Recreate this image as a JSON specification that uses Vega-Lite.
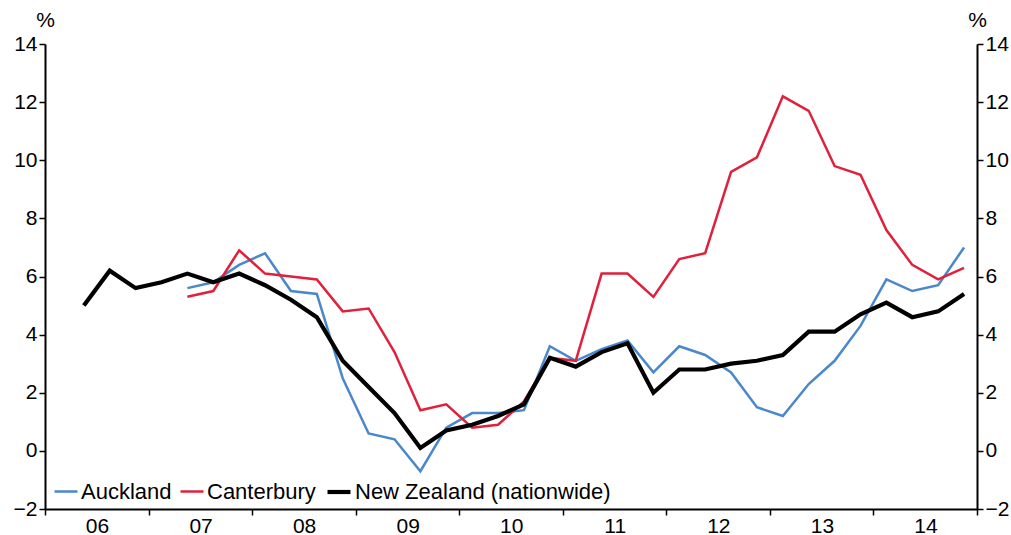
{
  "$schema": "https://vega.github.io/schema/vega-lite/v6.json",
  "width": 932,
  "height": 465,
  "autosize": {"type": "none"},
  "padding": {"left": 45, "top": 44, "right": 34, "bottom": 26},
  "background": "white",
  "config": {
    "view": {"stroke": null},
    "font": "Liberation Sans",
    "axis": {
      "domainColor": "black", "domainWidth": 2, "tickColor": "black", "tickWidth": 1.5,
      "tickSize": 6, "labelColor": "black", "labelFontSize": 21, "labelFont": "Liberation Sans",
      "grid": false, "titleFont": "Liberation Sans", "titleFontWeight": "normal", "titleFontSize": 21, "titleColor": "black"
    },
    "legend": {
      "orient": "none", "legendX": 8, "legendY": 434, "direction": "horizontal", "title": null,
      "labelFontSize": 22, "labelFont": "Liberation Sans", "labelColor": "black", "labelLimit": 500,
      "symbolType": "stroke", "symbolSize": 529, "labelOffset": 2, "columnPadding": 3, "padding": 0
    }
  },
  "data": {"values": [
    {"t": 2006.375, "series": "New Zealand (nationwide)", "v": 5.0},
    {"t": 2006.625, "series": "New Zealand (nationwide)", "v": 6.2},
    {"t": 2006.875, "series": "New Zealand (nationwide)", "v": 5.6},
    {"t": 2007.125, "series": "New Zealand (nationwide)", "v": 5.8},
    {"t": 2007.375, "series": "New Zealand (nationwide)", "v": 6.1},
    {"t": 2007.625, "series": "New Zealand (nationwide)", "v": 5.8},
    {"t": 2007.875, "series": "New Zealand (nationwide)", "v": 6.1},
    {"t": 2008.125, "series": "New Zealand (nationwide)", "v": 5.7},
    {"t": 2008.375, "series": "New Zealand (nationwide)", "v": 5.2},
    {"t": 2008.625, "series": "New Zealand (nationwide)", "v": 4.6},
    {"t": 2008.875, "series": "New Zealand (nationwide)", "v": 3.1},
    {"t": 2009.125, "series": "New Zealand (nationwide)", "v": 2.2},
    {"t": 2009.375, "series": "New Zealand (nationwide)", "v": 1.3},
    {"t": 2009.625, "series": "New Zealand (nationwide)", "v": 0.1},
    {"t": 2009.875, "series": "New Zealand (nationwide)", "v": 0.7},
    {"t": 2010.125, "series": "New Zealand (nationwide)", "v": 0.9},
    {"t": 2010.375, "series": "New Zealand (nationwide)", "v": 1.2},
    {"t": 2010.625, "series": "New Zealand (nationwide)", "v": 1.6},
    {"t": 2010.875, "series": "New Zealand (nationwide)", "v": 3.2},
    {"t": 2011.125, "series": "New Zealand (nationwide)", "v": 2.9},
    {"t": 2011.375, "series": "New Zealand (nationwide)", "v": 3.4},
    {"t": 2011.625, "series": "New Zealand (nationwide)", "v": 3.7},
    {"t": 2011.875, "series": "New Zealand (nationwide)", "v": 2.0},
    {"t": 2012.125, "series": "New Zealand (nationwide)", "v": 2.8},
    {"t": 2012.375, "series": "New Zealand (nationwide)", "v": 2.8},
    {"t": 2012.625, "series": "New Zealand (nationwide)", "v": 3.0},
    {"t": 2012.875, "series": "New Zealand (nationwide)", "v": 3.1},
    {"t": 2013.125, "series": "New Zealand (nationwide)", "v": 3.3},
    {"t": 2013.375, "series": "New Zealand (nationwide)", "v": 4.1},
    {"t": 2013.625, "series": "New Zealand (nationwide)", "v": 4.1},
    {"t": 2013.875, "series": "New Zealand (nationwide)", "v": 4.7},
    {"t": 2014.125, "series": "New Zealand (nationwide)", "v": 5.1},
    {"t": 2014.375, "series": "New Zealand (nationwide)", "v": 4.6},
    {"t": 2014.625, "series": "New Zealand (nationwide)", "v": 4.8},
    {"t": 2014.875, "series": "New Zealand (nationwide)", "v": 5.4},

    {"t": 2007.375, "series": "Auckland", "v": 5.6},
    {"t": 2007.625, "series": "Auckland", "v": 5.8},
    {"t": 2007.875, "series": "Auckland", "v": 6.4},
    {"t": 2008.125, "series": "Auckland", "v": 6.8},
    {"t": 2008.375, "series": "Auckland", "v": 5.5},
    {"t": 2008.625, "series": "Auckland", "v": 5.4},
    {"t": 2008.875, "series": "Auckland", "v": 2.5},
    {"t": 2009.125, "series": "Auckland", "v": 0.6},
    {"t": 2009.375, "series": "Auckland", "v": 0.4},
    {"t": 2009.625, "series": "Auckland", "v": -0.7},
    {"t": 2009.875, "series": "Auckland", "v": 0.8},
    {"t": 2010.125, "series": "Auckland", "v": 1.3},
    {"t": 2010.375, "series": "Auckland", "v": 1.3},
    {"t": 2010.625, "series": "Auckland", "v": 1.4},
    {"t": 2010.875, "series": "Auckland", "v": 3.6},
    {"t": 2011.125, "series": "Auckland", "v": 3.1},
    {"t": 2011.375, "series": "Auckland", "v": 3.5},
    {"t": 2011.625, "series": "Auckland", "v": 3.8},
    {"t": 2011.875, "series": "Auckland", "v": 2.7},
    {"t": 2012.125, "series": "Auckland", "v": 3.6},
    {"t": 2012.375, "series": "Auckland", "v": 3.3},
    {"t": 2012.625, "series": "Auckland", "v": 2.7},
    {"t": 2012.875, "series": "Auckland", "v": 1.5},
    {"t": 2013.125, "series": "Auckland", "v": 1.2},
    {"t": 2013.375, "series": "Auckland", "v": 2.3},
    {"t": 2013.625, "series": "Auckland", "v": 3.1},
    {"t": 2013.875, "series": "Auckland", "v": 4.3},
    {"t": 2014.125, "series": "Auckland", "v": 5.9},
    {"t": 2014.375, "series": "Auckland", "v": 5.5},
    {"t": 2014.625, "series": "Auckland", "v": 5.7},
    {"t": 2014.875, "series": "Auckland", "v": 7.0},

    {"t": 2007.375, "series": "Canterbury", "v": 5.3},
    {"t": 2007.625, "series": "Canterbury", "v": 5.5},
    {"t": 2007.875, "series": "Canterbury", "v": 6.9},
    {"t": 2008.125, "series": "Canterbury", "v": 6.1},
    {"t": 2008.375, "series": "Canterbury", "v": 6.0},
    {"t": 2008.625, "series": "Canterbury", "v": 5.9},
    {"t": 2008.875, "series": "Canterbury", "v": 4.8},
    {"t": 2009.125, "series": "Canterbury", "v": 4.9},
    {"t": 2009.375, "series": "Canterbury", "v": 3.4},
    {"t": 2009.625, "series": "Canterbury", "v": 1.4},
    {"t": 2009.875, "series": "Canterbury", "v": 1.6},
    {"t": 2010.125, "series": "Canterbury", "v": 0.8},
    {"t": 2010.375, "series": "Canterbury", "v": 0.9},
    {"t": 2010.625, "series": "Canterbury", "v": 1.7},
    {"t": 2010.875, "series": "Canterbury", "v": 3.2},
    {"t": 2011.125, "series": "Canterbury", "v": 3.1},
    {"t": 2011.375, "series": "Canterbury", "v": 6.1},
    {"t": 2011.625, "series": "Canterbury", "v": 6.1},
    {"t": 2011.875, "series": "Canterbury", "v": 5.3},
    {"t": 2012.125, "series": "Canterbury", "v": 6.6},
    {"t": 2012.375, "series": "Canterbury", "v": 6.8},
    {"t": 2012.625, "series": "Canterbury", "v": 9.6},
    {"t": 2012.875, "series": "Canterbury", "v": 10.1},
    {"t": 2013.125, "series": "Canterbury", "v": 12.2},
    {"t": 2013.375, "series": "Canterbury", "v": 11.7},
    {"t": 2013.625, "series": "Canterbury", "v": 9.8},
    {"t": 2013.875, "series": "Canterbury", "v": 9.5},
    {"t": 2014.125, "series": "Canterbury", "v": 7.6},
    {"t": 2014.375, "series": "Canterbury", "v": 6.4},
    {"t": 2014.625, "series": "Canterbury", "v": 5.9},
    {"t": 2014.875, "series": "Canterbury", "v": 6.3}
  ]},
  "resolve": {"axis": {"y": "independent"}},
  "layer": [
    {
      "transform": [{"filter": "datum.series !== 'New Zealand (nationwide)'"}],
      "mark": {"type": "line", "strokeJoin": "miter"},
      "encoding": {
        "x": {"field": "t", "type": "quantitative",
          "scale": {"domain": [2006, 2015], "nice": false, "zero": false},
          "axis": {"title": null, "values": [2006, 2007, 2008, 2009, 2010, 2011, 2012, 2013, 2014, 2015],
            "labelExpr": "datum.value >= 2015 ? '' : substring(toString(datum.value), 2)",
            "labelOffset": 52, "labelPadding": 0, "labelFlush": false, "labelOverlap": false, "labelBound": false}},
        "y": {"field": "v", "type": "quantitative",
          "scale": {"domain": [-2, 14], "nice": false, "zero": false},
          "axis": {"orient": "left", "values": [-2, 0, 2, 4, 6, 8, 10, 12, 14], "labelPadding": 2,
            "title": "%", "titleAngle": 0, "titleAlign": "center", "titleX": 0, "titleY": -18, "titleBaseline": "alphabetic"}},
        "color": {"field": "series", "type": "nominal",
          "scale": {"domain": ["Auckland", "Canterbury", "New Zealand (nationwide)"], "range": ["#4A87CB", "#E0213C", "#000000"]}},
        "strokeWidth": {"field": "series", "type": "nominal",
          "scale": {"type": "ordinal", "domain": ["Auckland", "Canterbury", "New Zealand (nationwide)"], "range": [2.5, 2.5, 4.2]}}
      }
    },
    {
      "transform": [{"filter": "datum.series === 'New Zealand (nationwide)'"}],
      "mark": {"type": "line", "strokeJoin": "miter"},
      "encoding": {
        "x": {"field": "t", "type": "quantitative"},
        "y": {"field": "v", "type": "quantitative",
          "axis": {"orient": "right", "values": [-2, 0, 2, 4, 6, 8, 10, 12, 14], "labelPadding": 2,
            "title": "%", "titleAngle": 0, "titleAlign": "center", "titleX": 0, "titleY": -18, "titleBaseline": "alphabetic"}},
        "color": {"field": "series", "type": "nominal"},
        "strokeWidth": {"field": "series", "type": "nominal",
          "scale": {"type": "ordinal", "domain": ["Auckland", "Canterbury", "New Zealand (nationwide)"], "range": [2.5, 2.5, 4.2]}}
      }
    }
  ]
}
